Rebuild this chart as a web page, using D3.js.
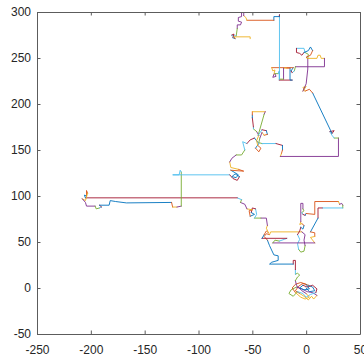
<!DOCTYPE html>
<html>
<head>
<meta charset="utf-8">
<script src="https://cdn.jsdelivr.net/npm/d3@7"></script>
<style>
  html, body { margin: 0; padding: 0; background: #fff; }
  svg { display: block; }
</style>
</head>
<body>
<div id="chart"></div>
<script>
var xTicks = [-250, -200, -150, -100, -50, 0, 50];
var yTicks = [-50, 0, 50, 100, 150, 200, 250, 300];

// the walk, in the pieces it was plotted in (each piece takes the next colour)
var originLoops = [
  [[0,0],[3,-4],[8,-3],[6,1],[2,3]],
  [[2,3],[-3,5],[-7,2],[-10,-3],[-6,-6]],
  [[-6,-6],[-2,-9],[2,-13],[5,-9],[7,-12],[10,-8]],
  [[10,-8],[6,-5],[1,-4],[-4,-1],[-9,1]],
  [[-9,1],[-14,-2],[-16,-6],[-12,-9],[-8,-4]],
  [[-8,-4],[-3,-6],[0,-10],[4,-7],[9,-5]],
  [[9,-5],[10,-1],[6,3],[1,1],[-3,3]],
  [[-3,3],[-6,0],[-2,-2],[3,-1],[0,4]],
  [[0,4],[-5,6],[-10,4],[-13,0],[-10,-5]],
  [[-10,-5],[-5,-10],[-1,-12],[3,-10],[0,-6]],
  [[0,-6],[-4,-3],[-9,3],[-10,8]],
  [[-10,8],[-8,12],[-6,14],[-8,16],[-10,15]],
  [[-10,15],[-10,20]],
  [[-10,20],[-10,30],[-12,30],[-12,26]]
];

var climbToMid = [
  [[-12,26],[-34,26],[-32,28],[-29,29],[-26,30],[-26,35],[-30,36],[-34,46],[-36,52]],
  [[-36,52],[-39,56],[-37,59],[-34,58]],
  [[-34,58],[-33,61],[-4,61]]
];

var eastLoop = [
  [[-4,61],[-1,58],[-2,52],[-1,46]],
  [[-1,46],[-2,40],[-5,39],[-7,42]],
  [[-7,42],[-8,48],[-6,53],[-8,58]],
  [[-8,58],[-6,62],[-5,66]],
  [[-5,66],[-3,64],[-2,68]],
  [[-2,68],[-4,70]],
  [[-4,70],[-6,69],[-5,72]],
  [[-5,72],[-5,92],[-3,92],[-3,86]],
  [[-3,86],[-2,84],[-4,82]],
  [[-4,82],[-3,80]],
  [[-3,80],[-1,79]],
  [[-1,79],[0,81]],
  [[0,81],[8,80],[8,94],[30,94]],
  [[30,94],[31,91]],
  [[31,91],[33,92],[34,90]],
  [[34,90],[34,87]],
  [[34,87],[15,87]],
  [[15,87],[11,87],[11,76]],
  [[11,76],[4,61]],
  [[4,61],[8,60],[8,56]],
  [[8,56],[4,55],[8,49]],
  [[8,49],[-31,49]]
];

var midCluster = [
  [[-31,49],[-29,52],[-25,51]],
  [[-25,51],[-20,53],[-18,54]],
  [[-18,54],[-41,54]],
  [[-41,54],[-39,58]],
  [[-39,58],[-37,62],[-35,60]],
  [[-35,60],[-37,65],[-36,68]],
  [[-36,68],[-37,76],[-42,76]],
  [[-42,76],[-48,76]],
  [[-48,76],[-46,80],[-47,86]],
  [[-47,86],[-50,87],[-51,82]],
  [[-51,82],[-48,80],[-52,78]],
  [[-52,78],[-53,84],[-50,85]],
  [[-50,85],[-55,86]],
  [[-55,86],[-57,91],[-61,93]],
  [[-61,93],[-60,96]],
  [[-60,96],[-64,98]]
];

var westRun = [
  [[-64,98],[-205,98]],
  [[-205,98],[-206,101],[-204,100]],
  [[-204,100],[-204,106],[-203,103]],
  [[-203,103],[-205,95],[-208,97]],
  [[-208,97],[-205,93],[-204,89],[-196,89]],
  [[-196,89],[-195,86],[-192,87]],
  [[-192,87],[-190,88]],
  [[-190,88],[-192,90]],
  [[-192,90],[-183,90],[-182,95],[-177,94],[-167,92.5],[-125,93]],
  [[-125,93],[-124,88]],
  [[-124,88],[-120,88]],
  [[-120,88],[-116,89]],
  [[-116,89],[-116,126]],
  [[-116,126],[-117,128],[-118,123],[-124,123],[-71,123]]
];

var northClimb = [
  [[-71,123],[-68,119],[-64,117],[-62,121]],
  [[-62,121],[-66,124],[-69,121],[-65,120],[-63,123],[-67,126],[-70,128]],
  [[-70,128],[-58,127],[-63,129]],
  [[-63,129],[-70,131],[-71,137]],
  [[-71,137],[-69,141],[-65,144.6]],
  [[-65,144.6],[-60,144.6],[-57,150]],
  [[-57,150],[-59,159],[-55,157]],
  [[-55,157],[-52,161],[-48,163]],
  [[-48,163],[-44,157],[-47,152]],
  [[-47,152],[-44,148],[-42,152],[-45,155]],
  [[-45,155],[-46,160],[-44,166]],
  [[-44,166],[-46,170]],
  [[-46,170],[-49,173]],
  [[-49,173],[-49,175]],
  [[-49,175],[-50,185]],
  [[-50,185],[-50,188]],
  [[-50,188],[-50,191.6]],
  [[-50,191.6],[-38,191.6]],
  [[-38,191.6],[-39,189]],
  [[-39,189],[-44.6,166]],
  [[-44.6,166],[-41,172]],
  [[-41,172],[-37,171]],
  [[-37,171],[-36,167]],
  [[-36,167],[-39,166]],
  [[-39,166],[-41,169]],
  [[-41,169],[-43,163]],
  [[-43,163],[-44,158],[-41,157]],
  [[-41,157],[-28,157]],
  [[-28,157],[-22,155]],
  [[-22,155],[-22,150]],
  [[-22,150],[-23,146]],
  [[-23,146],[-24,143]],
  [[-24,143],[30,143],[30,163]],
  [[30,163],[26,163]],
  [[26,163],[24,166],[22,170]],
  [[22,170],[26,171],[24,168]],
  [[24,168],[6,212]],
  [[6,212],[3,216],[-1,214]],
  [[-1,214],[-3,218],[0,219],[-3,214]],
  [[-3,214],[0,222],[1.5,238],[1.5,249.6]]
];

var topCluster = [
  [[1.5,249.6],[2,254],[-1,256]],
  [[-1,256],[-2,260.5],[-9,260.5]],
  [[-9,260.5],[-9,256],[-6,255],[-4,253],[-2,256]],
  [[-2,256],[2,258],[4,262],[6,258]],
  [[6,258],[4,253],[0,251],[1,249.6]],
  [[1,249.6],[10,249.6],[11,253],[13,253],[14,249.6],[17,249.6]],
  [[17,249.6],[17,240.5],[1.5,240.5],[-10,240.5]],
  [[-10,240.5],[-11,236]],
  [[-11,236],[-13,234]],
  [[-13,234],[-14,236]],
  [[-14,236],[-12,239.5]],
  [[-12,239.5],[-32,239.5]],
  [[-32,239.5],[-31,236],[-29,237],[-30,232]],
  [[-30,232],[-31,229],[-28,230],[-29,233]],
  [[-29,233],[-26,233]],
  [[-26,233],[-25,236],[-25,226]],
  [[-25,226],[-13,226]],
  [[-13,226],[-15,226],[-15,239]],
  [[-15,239],[-18,239]],
  [[-18,239],[-21,239]],
  [[-21,239],[-21,227]],
  [[-21,227],[-24.8,227]],
  [[-24.8,227],[-24.8,297]],
  [[-24.8,297],[-25,295]],
  [[-25,295],[-30,295],[-30,291]],
  [[-30,291],[-55,291]],
  [[-55,291],[-56,294],[-58,296]],
  [[-58,296],[-58,301],[-60,299],[-60,295],[-63,294],[-63,290],[-60,289],[-61,286],[-64,286],[-64,282]],
  [[-64,282],[-65,274]],
  [[-65,274],[-69,274],[-69,275]],
  [[-69,275],[-67,276],[-68,272]],
  [[-68,272],[-66,271]],
  [[-66,271],[-67,273]],
  [[-67,273],[-52,273],[-52,271]]
];

var walk = [].concat(originLoops, climbToMid, eastLoop, midCluster, westRun, northClimb, topCluster);

var width = 364, height = 357;
var plot = { left: 37, right: 360, top: 12, bottom: 334 };
var fontFamily = '"Liberation Sans", Arial, Helvetica, sans-serif';

var svg = d3.select("#chart").append("svg")
  .attr("width", width)
  .attr("height", height);

var x = d3.scaleLinear().domain([-250, 50]).range([plot.left, plot.right]);
var y = d3.scaleLinear().domain([-50, 300]).range([plot.bottom, plot.top]);

// matlab default colour order
var color = d3.scaleOrdinal()
  .domain(d3.range(7))
  .range(["#0072BD", "#D95319", "#EDB120", "#7E2F8E", "#77AC30", "#4DBEEE", "#A2142F"]);

svg.append("clipPath").attr("id", "plotClip")
  .append("rect")
  .attr("x", plot.left).attr("y", plot.top)
  .attr("width", plot.right - plot.left)
  .attr("height", plot.bottom - plot.top);

var line = d3.line()
  .x(function (d) { return x(d[0]); })
  .y(function (d) { return y(d[1]); });

svg.append("g")
  .attr("clip-path", "url(#plotClip)")
  .selectAll("path")
  .data(walk)
  .enter()
  .append("path")
  .attr("d", line)
  .attr("fill", "none")
  .attr("stroke", function (d, i) { return color(i % 7); })
  .attr("stroke-width", 0.9)
  .attr("stroke-linejoin", "round")
  .attr("stroke-linecap", "round");

// box with inward ticks on all four sides
function styleAxis(sel) {
  sel.attr("color", "#5c5c5c")
    .attr("font-family", fontFamily)
    .attr("font-size", 12);
  sel.selectAll("text").attr("fill", "#262626");
}

var fmt = function (d) { return String(d); };

svg.append("g")
  .attr("transform", "translate(0," + plot.bottom + ")")
  .call(d3.axisBottom(x).tickValues(xTicks).tickSizeInner(-3.5).tickSizeOuter(0).tickPadding(11.5).tickFormat(fmt))
  .call(styleAxis);

svg.append("g")
  .attr("transform", "translate(" + plot.left + ",0)")
  .call(d3.axisLeft(y).tickValues(yTicks).tickSizeInner(-3.5).tickSizeOuter(0).tickPadding(6).tickFormat(fmt))
  .call(styleAxis);

svg.append("g")
  .attr("transform", "translate(0," + plot.top + ")")
  .call(d3.axisTop(x).tickValues(xTicks).tickSizeInner(-3.5).tickSizeOuter(0).tickFormat(""))
  .call(styleAxis);

svg.append("g")
  .attr("transform", "translate(" + plot.right + ",0)")
  .call(d3.axisRight(y).tickValues(yTicks).tickSizeInner(-3.5).tickSizeOuter(0).tickFormat(""))
  .call(styleAxis);
</script>
</body>
</html>
